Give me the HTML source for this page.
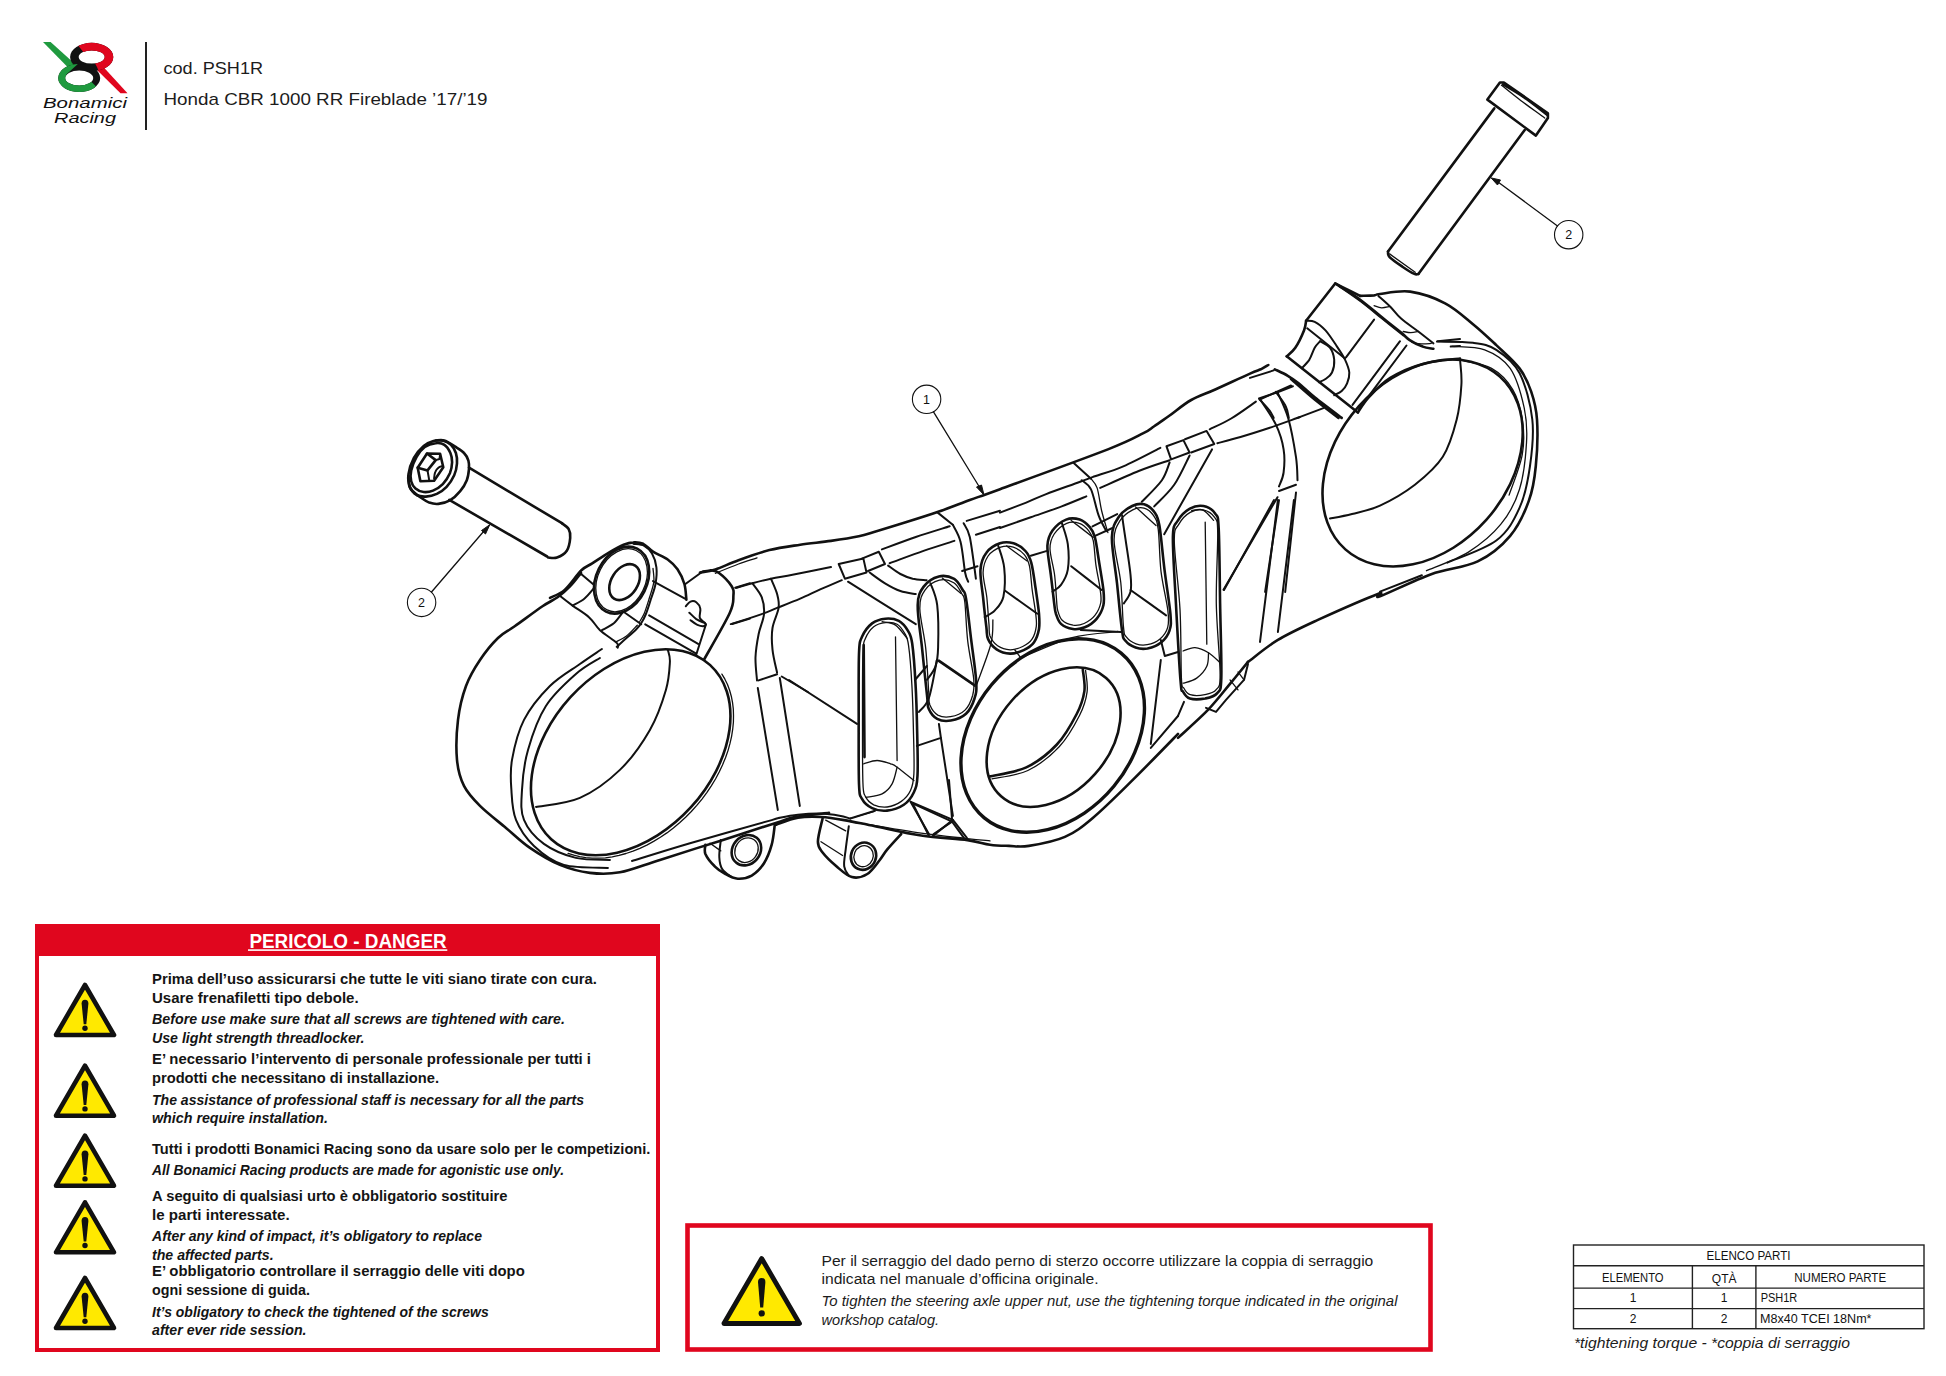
<!DOCTYPE html>
<html><head><meta charset="utf-8">
<style>
html,body{margin:0;padding:0;background:#fff;width:1946px;height:1376px;overflow:hidden}
svg{display:block}
text{font-family:"Liberation Sans",sans-serif}
.b{font-weight:bold;fill:#141414}
.bi{font-weight:bold;font-style:italic;fill:#141414}
.r{fill:#1c1c1c}
.ri{font-style:italic;fill:#1c1c1c}
.d{fill:none;stroke:#111;stroke-width:2;stroke-linecap:round;stroke-linejoin:round}
.t{fill:none;stroke:#111;stroke-width:1.3;stroke-linecap:round;stroke-linejoin:round}
.k{fill:none;stroke:#111;stroke-width:2.6;stroke-linecap:round;stroke-linejoin:round}
.kk{fill:none;stroke:#111;stroke-width:3.4}
</style></head><body>
<svg width="1946" height="1376" viewBox="0 0 1946 1376">
<rect width="1946" height="1376" fill="#fff"/>

<!-- LOGO -->
<g id="logo">
<defs>
<clipPath id="cpR"><path d="M60 20 L76.5 43.5 L83.3 51.9 L91.7 57 L97.2 67.6 L99 72 L140 72 L140 20 Z"/></clipPath>
<clipPath id="cpG"><path d="M79.2 50 L79.2 62.8 L74.8 66.8 L66 74.8 L79.2 78 L90.8 81.2 L95.6 86 L100 90 L100 110 L40 110 L40 50 Z"/></clipPath>
</defs>
<path d="M43 42 L50.6 42 L75 64 L69 68.5 Z" fill="#1f9a3f"/>
<path d="M96.5 69.5 L102.5 66 L127.5 93.2 L120.5 93.2 Z" fill="#e0061e"/>
<path d="M70.1 57 A21.6 14.2 0 1 0 113.3 57 A21.6 14.2 0 1 0 70.1 57 Z M78.7 57 A13 6.6 0 1 1 104.7 57 A13 6.6 0 1 1 78.7 57 Z" fill="#111" fill-rule="evenodd"/>
<path d="M70.1 57 A21.6 14.2 0 1 0 113.3 57 A21.6 14.2 0 1 0 70.1 57 Z M78.7 57 A13 6.6 0 1 1 104.7 57 A13 6.6 0 1 1 78.7 57 Z" fill="#e0061e" fill-rule="evenodd" clip-path="url(#cpR)"/>
<path d="M58.2 78 A21 14 0 1 0 100.2 78 A21 14 0 1 0 58.2 78 Z M65.2 78 A14 7.6 0 1 1 93.2 78 A14 7.6 0 1 1 65.2 78 Z" fill="#111" fill-rule="evenodd"/>
<path d="M58.2 78 A21 14 0 1 0 100.2 78 A21 14 0 1 0 58.2 78 Z M65.2 78 A14 7.6 0 1 1 93.2 78 A14 7.6 0 1 1 65.2 78 Z" fill="#1f9a3f" fill-rule="evenodd" clip-path="url(#cpG)"/>
<text x="43" y="107.6" font-size="15" font-style="italic" fill="#111" textLength="84" lengthAdjust="spacingAndGlyphs">Bonamici</text>
<text x="54" y="123.2" font-size="15" font-style="italic" fill="#111" textLength="62" lengthAdjust="spacingAndGlyphs">Racing</text>
</g>
<rect x="145" y="42" width="2" height="88" fill="#222"/>
<text class="r" x="163.5" y="74" font-size="17" textLength="99.5" lengthAdjust="spacingAndGlyphs">cod. PSH1R</text>
<text class="r" x="163.5" y="105.2" font-size="17" textLength="324" lengthAdjust="spacingAndGlyphs">Honda CBR 1000 RR Fireblade ’17/’19</text>

<!-- DRAWING -->
<g id="drawing">
<path class="k" d="M411.2 470.4 C412.1 466.3 414.4 460.7 416.6 456.8 C418.9 452.9 421.6 449.3 424.8 447 C428 444.7 432.4 443.5 435.7 443.2 C439 442.8 442 443.2 444.4 444.8 C446.9 446.4 449.1 450.1 450.4 453 C451.7 455.9 452.1 458.9 452.1 462.3 C452 465.6 451.4 469.5 449.9 473.2 C448.3 476.8 445.6 481.1 442.8 484.1 C440 487 436.2 489.3 433 490.6 C429.8 491.9 426.6 492.3 423.7 492 C420.8 491.6 417.6 490.2 415.5 488.4 C413.4 486.6 411.9 484.3 411.2 481.3 C410.4 478.3 410.3 474.5 411.2 470.4Z"/>
<path class="k" d="M408.5 474.2 C409.1 469.3 411.4 462.6 413.9 457.9 C416.4 453.2 420.4 448.7 423.7 445.9 C427 443.1 430.3 441.9 433.5 441 C436.8 440.1 440.4 440.1 443.3 440.7 C446.2 441.4 448.9 442.8 451 444.8 C453.1 446.9 454.9 449.9 455.9 453 C456.9 456.1 457.2 459.6 457 463.3 C456.7 467.1 456 471.4 454.2 475.3 C452.5 479.2 449.5 483.7 446.6 486.8 C443.7 489.9 440.2 492.2 436.8 493.9 C433.3 495.5 429.3 496.4 425.9 496.6 C422.5 496.8 419.3 496.5 416.6 495 C414 493.4 411.4 490.8 410.1 487.3 C408.7 483.9 407.8 479.1 408.5 474.2Z"/>
<path class="k" d="M435.7 440.5 C437.2 440.5 441.2 439.5 444.4 440.5 C447.6 441.4 451.5 444.4 454.8 446.4 C458 448.5 461.8 450.6 464 453 C466.3 455.3 467.6 458 468.4 460.6 C469.2 463.3 469.2 465.5 469 468.8 C468.7 472.1 468.2 476.5 466.8 480.2 C465.3 484 463 487.8 460.2 491.1 C457.4 494.5 453.5 498.3 449.9 500.4 C446.2 502.5 441.9 503.6 438.4 503.9 C435 504.3 432.1 503.6 429.2 502.6 C426.3 501.5 423.5 499.4 421 497.7 C418.4 496 415.8 494 413.9 492.2 C412 490.4 410.4 489.5 409.5 486.8 C408.6 484.1 408.6 477.7 408.5 475.9"/>
<path class="k" d="M427 453.5 L440.1 453.8 L443.3 467.2 L434.1 480.8 L420.4 481.3 L417.7 467.7Z"/>
<path class="k" d="M427 453.5 L435.7 460.1 L427.5 470.4 L417.7 467.7"/>
<path class="d" d="M435.7 460.1 L439.5 459 L440.1 454.1"/>
<path class="d" d="M427.5 470.4 L429.2 480.2"/>
<path class="d" d="M434.1 478.6 C434.2 477.5 434.4 473.9 435.2 472.1 C435.9 470.2 437.2 468.7 438.4 467.7 C439.6 466.7 441.6 466.3 442.2 466.1"/>
<path class="k" d="M469 467.7 L561.9 523.2"/>
<path class="k" d="M449.3 499.9 L547.1 556.5"/>
<path class="k" d="M561.9 523.2 C563 524.2 567.3 526.6 568.7 529.1 C570.1 531.5 570.5 534.3 570.2 537.9 C569.9 541.5 569 547.4 566.8 550.7 C564.6 553.9 560.1 556.4 557 557.5 C553.8 558.7 549.6 557.5 548.1 557.5"/>
<path class="k" d="M581 573.1 C579.2 575.3 574.1 582.3 570.2 586.2 C566.4 590.2 562.5 593.7 557.9 597 C553.3 600.4 549.7 601.4 542.5 606.3 C535.3 611.2 522.2 621 514.7 626.3 C507.3 631.6 503.8 632.4 498 638 C492.2 643.6 485.3 652 480 660 C474.6 668 469.7 676 466 686 C462.3 696 459.5 707.6 458 719.9 C456.5 732.3 456 748.9 457 759.9 C458 770.9 460.2 778.3 464 785.9 C467.8 793.6 473 798.9 480 805.9 C487 812.9 497.6 820.9 506 827.9 C514.3 834.9 521 841.7 530 847.9 C538.9 854 549.9 860.7 559.9 864.9 C569.9 869 579.9 871.6 589.9 872.9 C599.9 874.1 608.2 874.4 619.9 872.3 C631.6 870.1 643.2 865.1 659.9 859.9 C676.5 854.6 700.5 847 719.9 840.9 C739.2 834.7 763.2 826.9 775.8 822.9 C788.5 818.9 787 818.6 795.8 816.9 C804.7 815.2 823.5 813.6 829 812.9"/>
<ellipse class="k" cx="630.7" cy="752.2" rx="117.9" ry="81.6" transform="rotate(-47.6 630.7 752.2)"/>
<path class="t" d="M721.9 674.1 L724.9 679.2 L727.5 684.5 L729.6 690.2 L731.3 696.2 L732.5 702.4 L733.3 708.8 L733.5 715.5 L733.4 722.3 L732.7 729.2 L731.6 736.3 L730 743.4 L728 750.6 L725.5 757.7 L722.5 764.9 L719.2 772 L715.5 779 L711.3 785.8 L706.8 792.6 L702 799.1 L696.8 805.4 L691.3 811.5 L685.6 817.3 L679.6 822.8 L673.4 828 L666.9 832.9 L660.4 837.3 L653.6 841.4 L646.8 845.1 L639.9 848.3 L633 851.1 L626 853.5 L619.1 855.4 L612.2 856.8 L605.4 857.8 L598.7 858.2 L592.2 858.2 L585.8 857.7 L579.7 856.7 L573.8 855.2 L568.1 853.3"/>
<path class="d" d="M599.9 658 C595.9 660.6 584.9 666 575.9 674 C566.9 682 553.9 693.3 545.9 706 C537.9 718.6 532 735.9 528 749.9 C524 763.9 522.6 778.3 522 789.9 C521.3 801.6 520.3 810.9 524 819.9 C527.6 828.9 535.3 837.6 543.9 843.9 C552.6 850.2 564.9 855.2 575.9 857.9 C586.9 860.5 604.2 859.5 609.9 859.9"/>
<path class="d" d="M601.9 649 C598.3 651.5 588.6 657.8 579.9 664 C571.3 670.1 559.3 676.6 549.9 686 C540.6 695.3 530.3 707.6 524 719.9 C517.6 732.3 514.1 748.3 512 759.9 C509.9 771.6 510.7 779.9 511.4 789.9 C512 799.9 512.2 810.6 516 819.9 C519.7 829.2 526 838.4 534 845.9 C541.9 853.4 551.6 861.2 563.9 864.9 C576.3 868.5 600.6 867.4 607.9 867.9"/>
<path class="d" d="M536 806.9 C543.3 805.4 565.9 804.1 579.9 797.9 C593.9 791.7 608.2 781.2 619.9 769.9 C631.6 758.6 642.2 743.3 649.9 729.9 C657.6 716.6 662.6 701.3 665.9 690 C669.2 678.6 669.5 668.6 669.9 662 C670.2 655.3 668.2 652 667.9 650"/>
<path class="k" d="M550 597.8 C552.5 596.5 559.5 594.5 564.7 589.9 C569.9 585.4 576.8 574.7 581.4 570.3 C586 565.9 587.6 566.4 592.2 563.4 C596.8 560.5 603.6 555.8 608.9 552.7 C614.1 549.6 619.5 546.5 623.6 544.8 C627.7 543.1 630.1 542.5 633.4 542.4 C636.7 542.2 639.9 542.3 643.2 543.8 C646.5 545.4 648.9 549.1 653 551.7 C657.1 554.3 663.6 556.6 667.7 559.5 C671.8 562.5 674.7 565.2 677.5 569.3 C680.3 573.4 682.9 579 684.4 584 C685.9 589.1 686 597.1 686.4 599.7"/>
<ellipse class="k" cx="621.6" cy="580.1" rx="25.4" ry="35.1" transform="rotate(-153.7 621.6 580.1)"/>
<ellipse class="t" cx="621.6" cy="580.2" rx="23.7" ry="33.1" transform="rotate(-153.9 621.6 580.2)"/>
<ellipse class="k" cx="624.6" cy="582.1" rx="19.6" ry="13.2" transform="rotate(-57.3 624.6 582.1)"/>
<path class="d" d="M633.4 543.8 C635.2 544.2 641.1 544.2 644.2 545.8 C647.3 547.4 650 550 652 553.6 C654.1 557.2 655.9 562.3 656.4 567.4 C657 572.4 656.4 578.8 655.5 584 C654.6 589.3 652.6 593.9 651 598.8 C649.5 603.7 647.8 609.4 646.1 613.5 C644.5 617.6 642.9 620.7 641.2 623.3 C639.6 625.9 638.8 626.7 636.3 629.2 C633.9 631.6 629.8 635.1 626.5 638 C623.2 640.9 618.3 645.4 616.7 646.8"/>
<path class="t" d="M653 568.4 C653.1 570.6 654.4 577 653.8 582.1 C653.1 587.2 650.7 593.5 649.1 598.8 C647.5 604 645.8 609.6 644.2 613.5 C642.5 617.4 640.1 620.8 639.3 622.3"/>
<path class="d" d="M685.8 606.3 C686.6 605.5 688.7 602.3 690.5 601.6 C692.2 600.9 694.6 601 696.3 602.2 C697.9 603.4 699.8 606 700.3 608.6 C700.9 611.2 699 615.5 699.8 617.9 C700.5 620.3 704.2 621.8 705 623.1 C705.8 624.5 705.7 625.8 704.4 626 C703.2 626.3 699.8 625.9 697.4 624.9 C695.1 623.9 691.6 621 690.5 620.2"/>
<path class="d" d="M689.3 612.7 C690.5 613.7 693.7 617.3 696.3 619.1 C698.9 620.8 703.5 622.5 705 623.1"/>
<path class="d" d="M706 624.3 L696.2 654.7"/>
<path class="d" d="M653 581.1 L685.4 598.8"/>
<path class="d" d="M649.1 615.4 L698.1 643.9"/>
<path class="d" d="M645.2 624.3 L696.2 653.7"/>
<path class="d" d="M624.6 612.5 L641.2 624.3"/>
<path class="d" d="M581.4 574.2 L594.1 585"/>
<path class="d" d="M559.8 595.8 C561.9 597.5 567.7 602 572.6 605.6 C577.5 609.2 584.7 613.3 589.2 617.4 C593.8 621.5 595.5 625.9 600 630.2 C604.6 634.4 613.8 640 616.7 642.9 C619.6 645.8 617.5 647 617.7 647.8"/>
<path class="d" d="M572.6 605.6 C574.5 604.5 580.7 601.7 584.3 598.8 C587.9 595.8 592.5 589.8 594.1 588"/>
<path class="d" d="M602 630.2 C604 629 610.3 626.2 613.8 623.3 C617.2 620.3 621.1 614.3 622.6 612.5"/>
<path class="t" d="M615.7 641.9 C617.5 640.9 622.9 638.8 626.5 636 C630.1 633.3 635.5 627 637.3 625.2"/>
<path class="d" d="M685.4 584 L703 571.3 L710.9 570.3"/>
<path class="k" d="M710.9 570.3 C712.2 570.7 715.3 570.2 718.7 572.8 C722.2 575.4 729 582.2 731.5 586 C733.9 589.9 733.8 591.2 733.4 595.8 C733.1 600.4 734.4 602.9 729.5 613.5 C724.6 624.1 708.3 651.9 704 659.6"/>
<path class="d" d="M735.2 587.8 L750 583.2"/>
<path class="d" d="M732.1 624 L750 618.6"/>
<path class="k" d="M700 572.5 C702.6 572 709 571.5 715.4 569.4 C721.8 567.4 729.5 563.4 738.5 560.2 C747.5 556.9 759.1 552.7 769.4 550.1 C779.6 547.6 789.9 546.3 800.2 544.7 C810.5 543.2 821.3 542.3 831 540.9 C840.8 539.5 851.1 537.9 858.8 536.3 C866.5 534.6 869.1 533.3 877.3 530.9 C885.5 528.4 897.8 524.8 908.1 521.6 C918.4 518.4 928.7 515.2 938.9 511.6 C949.2 508 959.6 503.8 969.8 500 C979.9 496.3 977 497.7 1000 489.2 C1023 480.8 1084 458.7 1107.9 449.4 C1131.8 440 1135.7 437 1143.4 433.2 C1151.1 429.3 1149.8 429.2 1154.2 426.2 C1158.5 423.3 1163.4 419.8 1169.6 415.5 C1175.7 411.1 1183.4 404.4 1191.2 400 C1198.9 395.7 1206 393.7 1215.8 389.2 C1225.6 384.8 1242.5 376.9 1250 373.6 C1257.5 370.3 1257.7 370.7 1260.8 369.3 C1263.8 367.8 1267.1 365.7 1268.3 365"/>
<path class="t" d="M715.4 573.3 C719.3 571.7 731.6 566.6 738.5 564 C745.5 561.4 754 558.9 757 557.8"/>
<path class="d" d="M736.2 587.9 C738.9 587.1 746.6 584.8 752.4 583.3 C758.2 581.7 764.2 580.1 770.9 578.7 C777.6 577.2 782.5 576.7 792.5 574.8 C802.5 572.9 824.6 568.4 831 567.1"/>
<path class="d" d="M730.8 624.1 C736 622.5 754 616.8 761.7 614.1 C769.4 611.4 770.7 610.5 777.1 607.9 C783.5 605.4 793 601.8 800.2 598.7 C807.4 595.6 813.3 592.5 820.2 589.4 C827.2 586.4 838.2 581.7 841.8 580.2"/>
<path class="d" d="M752.4 583.3 C754 585.6 759.7 592 761.7 597.2 C763.6 602.3 764.5 607.9 764 614.1 C763.5 620.3 760 627 758.6 634.2 C757.2 641.3 755.8 649.6 755.5 657.3 C755.2 665 756.8 676.5 757 680.4"/>
<path class="d" d="M770.9 578.7 C771.9 581.2 775.8 589.2 777.1 594.1 C778.4 599 779.4 602.3 778.6 607.9 C777.8 613.6 773.5 621.1 772.5 628 C771.4 634.9 771.7 642.1 772.5 649.6 C773.2 657 776.3 668.8 777.1 672.7"/>
<path class="d" d="M838.7 564 L863.4 558.6 L866.5 572.5 L844.9 578.7Z"/>
<path class="d" d="M861.9 558.6 L878.8 551.7 L885 564 L868 571"/>
<path class="d" d="M881.9 549.4 C887.6 547.3 904.5 540.9 915.8 537 C927.1 533.2 944.1 528 949.7 526.2"/>
<path class="d" d="M889.6 563.2 C895.3 561.2 912.7 554.6 923.5 550.9 C934.3 547.2 949.2 542.6 954.4 540.9"/>
<path class="d" d="M869.6 572.5 C872.1 574.3 879.8 580.2 885 583.3 C890.1 586.4 895.3 589.2 900.4 591 C905.5 592.8 913.2 593.6 915.8 594.1"/>
<path class="d" d="M888.1 565.6 C890.1 567 896.3 571.9 900.4 574 C904.5 576.2 908.4 577.6 912.7 578.7 C917.1 579.7 924.3 579.9 926.6 580.2"/>
<path class="d" d="M848 581.7 L877.3 600.2 L915.8 624.1"/>
<path class="d" d="M937.4 512.4 L952.8 524.7"/>
<path class="d" d="M952.8 524.7 C954.1 527.5 958.5 533.7 960.5 541.7 C962.6 549.6 963.9 565.8 965.1 572.5 C966.4 579.2 967.7 580.2 968.2 581.7"/>
<path class="d" d="M963.6 523.2 C964.6 525.5 967.7 527.8 969.8 537 C971.8 546.3 974.9 571.7 975.9 578.7"/>
<path class="d" d="M966.7 520.9 L1000 510.8"/>
<path class="d" d="M975.9 534.7 L1000 527"/>
<path class="d" d="M962.1 571 L977.5 566.3"/>
<path class="d" d="M758.6 680.4 L777.1 674.2"/>
<path class="d" d="M781.7 676.5 L807.9 692"/>
<path class="d" d="M1000 512.6 C1004.4 510.9 1018.5 505.6 1026.2 502.6 C1033.9 499.5 1037.3 497.5 1046.2 494.1 C1055.2 490.6 1072.5 484.6 1080.2 481.7 C1087.9 478.9 1085.3 479.7 1092.5 477.1 C1099.7 474.5 1112 471.2 1123.3 466.3 C1134.6 461.4 1154.2 450.9 1160.3 447.8"/>
<path class="d" d="M1000 528 C1005.1 526.2 1020.6 520.8 1030.8 517.2 C1041.1 513.6 1052.4 509.9 1061.7 506.4 C1070.9 502.9 1082.2 498.1 1086.3 496.4"/>
<path class="d" d="M1100.2 487.9 C1106.6 485.1 1127.2 475.6 1138.7 471 C1150.3 466.3 1164.4 462 1169.6 460.2"/>
<path class="d" d="M1166.5 446.3 L1183.4 440.1 L1189.6 452.5 L1171.1 459.4Z"/>
<path class="d" d="M1185 439.3 L1206.6 430.9 L1214.3 444 L1191.2 452.5"/>
<path class="d" d="M1209.7 429.3 C1213.2 427.5 1223.5 423.2 1231.2 418.5 C1238.9 413.9 1251.8 404.4 1255.9 401.6"/>
<path class="d" d="M1217.4 443.2 C1221.2 442.2 1231.7 439.6 1240.5 437 C1249.2 434.5 1259.9 431.1 1269.8 427.8 C1279.7 424.4 1294.9 418.8 1300 417"/>
<path class="d" d="M1259 398.5 L1277.5 392.3 L1292.9 386.2"/>
<path class="d" d="M1169.6 462.5 C1168.3 465.4 1166.5 473.6 1161.9 480.2 C1157.2 486.8 1145.2 498.2 1141.8 501.8"/>
<path class="d" d="M1189.6 455.5 C1187 460.4 1180.1 476.3 1174.2 484.8 C1168.3 493.3 1157.5 502.8 1154.2 506.4"/>
<path class="d" d="M1212 449.4 L1185 497.2 L1164.2 534.2"/>
<path class="d" d="M1260.5 400 C1263.1 404.2 1272.1 416.5 1275.9 424.7 C1279.8 432.9 1282.4 441.4 1283.6 449.4 C1284.9 457.3 1284.4 466.3 1283.6 472.5 C1282.9 478.7 1279.8 484.1 1279 486.4"/>
<path class="d" d="M1277.5 392.3 C1279.3 396.7 1285.2 407.7 1288.3 418.5 C1291.4 429.3 1294.4 446.8 1296 457.1 C1297.5 467.4 1297.3 476.3 1297.5 480.2"/>
<path class="d" d="M1279 491 L1296 484.8"/>
<path class="d" d="M1277.5 497.2 L1223.5 589.7"/>
<path class="d" d="M1279 500.2 L1265.1 592"/>
<path class="d" d="M1296 492.5 L1285.2 592"/>
<path class="d" d="M1074 463.2 L1091 478.7"/>
<path class="d" d="M1081.7 480.2 C1083.2 481.7 1088.1 483.5 1091 489.4 C1093.8 495.4 1096.1 508.7 1098.7 515.7 C1101.2 522.6 1105.1 528.5 1106.4 531.1"/>
<path class="t" d="M1091 478.7 C1092 480.2 1095.3 482.5 1097.1 487.9 C1098.9 493.3 1099.9 503.6 1101.7 511 C1103.5 518.5 1106.9 529 1107.9 532.6"/>
<path class="d" d="M1092.5 526.4 L1117.2 514.1"/>
<path class="d" d="M1095.6 535.7 L1112.5 528"/>
<path class="d" d="M1030.8 555.7 L1046.2 551.1"/>
<path class="k" d="M859 653.5 C859.6 640.1 859.9 641.8 862 636.8 C864.2 631.8 868.2 626.4 872.1 623.4 C876 620.4 881 619.1 885.4 618.7 C889.9 618.3 895 618.9 898.8 620.9 C902.6 622.9 905.8 627.2 908 630.9 C910.2 634.7 910.9 634.7 912.2 643.5 C913.4 652.2 914.7 668.5 915.5 683.6 C916.4 698.6 916.9 718.4 917.2 733.7 C917.5 749.1 918.1 765.8 917.5 775.5 C917 785.3 916.1 787.4 913.9 792.2 C911.6 797.1 908.3 801.7 903.8 804.8 C899.4 807.8 892.4 810.1 887.1 810.6 C881.8 811.2 876.2 810.1 872.1 808.1 C867.9 806.2 864.2 803 862 798.9 C859.9 794.9 859.6 797.5 859 783.9 C858.5 770.2 858.7 738.7 858.7 717 C858.7 695.3 858.5 666.9 859 653.5Z"/>
<path class="t" d="M862.9 653.5 C863.3 640.4 863.6 642.9 865.4 638.4 C867.2 634 870.4 629.4 873.7 626.7 C877.1 624.1 881.5 623 885.4 622.6 C889.3 622.1 893.9 622.4 897.1 624.2 C900.3 626.1 902.8 630 904.7 633.4 C906.6 636.9 907.3 636.8 908.5 645.1 C909.7 653.5 911 668.8 911.8 683.6 C912.7 698.4 913.2 718.7 913.5 733.7 C913.9 748.8 914.4 764.4 913.9 773.9 C913.4 783.3 912.6 786 910.5 790.6 C908.4 795.2 905.2 798.7 901.3 801.4 C897.4 804.2 891.7 806.4 887.1 807 C882.5 807.5 877.4 806.5 873.7 804.8 C870.1 803 867.2 800.2 865.4 796.4 C863.6 792.7 863.3 795.4 862.9 782.2 C862.4 769 862.5 738.5 862.5 717 C862.5 695.6 862.4 666.6 862.9 653.5Z"/>
<path class="k" d="M863.7 645.1 L864.5 757.1"/>
<path class="t" d="M895.5 636.8 L897.1 760.5"/>
<path class="t" d="M863.7 763.8 C865.9 763.3 872.6 760.5 877.1 760.5 C881.5 760.5 887.1 762.7 890.5 763.8 C893.8 764.9 893.2 764.4 897.1 767.2 C901 770 911.1 778.3 913.9 780.5"/>
<path class="t" d="M866.2 797.3 C868.9 796.7 877.8 796.1 882.1 793.9 C886.4 791.7 889.6 788.3 892.1 783.9 C894.6 779.4 896.3 770 897.1 767.2"/>
<path class="t" d="M882.1 621.7 C884.3 622.3 891.3 622.3 895.5 625.1 C899.6 627.9 905.2 636.2 907.2 638.4"/>
<path class="k" d="M917.7 605.2 C918 595.1 920.1 591.4 923.7 586.6 C927.2 581.8 933.8 577.7 938.9 576.4 C944 575.1 950.2 576.7 954.2 578.9 C958.1 581.2 960.7 586.7 962.7 590 C964.6 593.2 964.6 590.2 966 598.4 C967.5 606.6 969.4 625.3 971.1 639.1 C972.8 653 975.7 671.6 976.2 681.5 C976.8 691.4 976.2 693.1 974.5 698.5 C972.8 703.9 970 710.1 966 713.8 C962.1 717.4 955.6 719.7 950.8 720.5 C946 721.4 940.9 720.8 937.2 718.8 C933.5 716.9 930.4 712.6 928.7 708.7 C927 704.7 928.2 705.3 927 695.1 C925.9 684.9 923.5 662.6 922 647.6 C920.4 632.6 917.4 615.4 917.7 605.2Z"/>
<path class="t" d="M919.8 608.4 C919.7 598.7 921.7 594.8 925 590.1 C928.3 585.4 934.6 581.4 939.4 580.2 C944.2 578.9 950.1 580.5 953.8 582.7 C957.6 585 959.9 590.4 961.8 593.7 C963.6 596.9 963.8 594.2 964.8 602 C965.8 609.9 966.2 628 967.7 640.8 C969.2 653.6 972.8 669.7 973.7 678.7 C974.5 687.8 974.1 689.9 972.7 695.2 C971.2 700.4 968.7 706.5 965 710.1 C961.3 713.7 955.2 715.9 950.6 716.7 C946.1 717.6 941.3 717 937.8 715.1 C934.4 713.1 931.5 709 929.9 705.1 C928.4 701.2 929.3 701.2 928.7 691.7 C928 682.2 927.2 661.9 925.7 648.1 C924.3 634.2 919.9 618 919.8 608.4Z"/>
<path class="d" d="M930.4 583.2 C931.6 586.9 935.9 594.5 937.2 605.2 C938.5 616 938.4 637.4 938.1 647.6 C937.8 657.8 937.4 660.9 935.5 666.3 C933.7 671.6 928.5 677.6 927 679.8"/>
<path class="d" d="M938.9 660.3 C944.9 664.4 968.6 680.8 974.5 684.9"/>
<path class="t" d="M942.3 578.1 C945.4 580.6 957.9 590.8 961 593.4"/>
<path class="k" d="M980.5 569.6 C981 562.3 983.1 557 986.4 552.7 C989.6 548.3 995.4 544.9 1000 543.3 C1004.5 541.8 1009.3 542.1 1013.5 543.3 C1017.8 544.6 1022.4 547.7 1025.4 551 C1028.4 554.2 1029.6 556.6 1031.3 562.8 C1033 569 1034.3 579.8 1035.6 588.3 C1036.8 596.7 1038.4 606.9 1039 613.7 C1039.5 620.5 1039.8 624.2 1039 629 C1038.1 633.8 1036.4 639 1033.9 642.5 C1031.3 646.1 1027.7 648.3 1023.7 650.2 C1019.7 652 1014.7 653.7 1010.1 653.6 C1005.6 653.4 1000.2 651.7 996.6 649.3 C992.9 646.9 989.8 642.8 988.1 639.1 C986.4 635.5 987.2 634.3 986.4 627.3 C985.5 620.2 984 606.4 983 596.7 C982 587.1 979.9 577 980.5 569.6Z"/>
<path class="t" d="M983.1 572.3 C983.3 565.5 985.2 560.3 988.1 556 C991 551.8 996.5 548.6 1000.7 547.1 C1004.9 545.6 1009.4 545.9 1013.3 547.1 C1017.3 548.4 1021.6 551.4 1024.3 554.6 C1027 557.8 1028.2 560.3 1029.5 566.2 C1030.8 572.1 1031.2 582.3 1032.2 590 C1033.2 597.6 1034.8 606.1 1035.5 612.1 C1036.2 618.2 1036.9 621.8 1036.3 626.3 C1035.7 630.8 1034.3 635.8 1032 639.2 C1029.8 642.6 1026.4 644.7 1022.7 646.5 C1019.1 648.2 1014.4 649.9 1010.2 649.8 C1006 649.6 1001 648 997.6 645.7 C994.3 643.4 991.5 639.4 990 635.9 C988.6 632.3 989.5 630.9 989 624.5 C988.4 618 987.7 606 986.8 597.3 C985.8 588.6 982.9 579.2 983.1 572.3Z"/>
<path class="d" d="M998.3 545.9 C999.3 549.5 1003.4 559.4 1004.2 567.9 C1005.1 576.4 1004.9 589.7 1003.4 596.7 C1001.8 603.8 998 606.9 994.9 610.3 C991.8 613.7 986.4 616 984.7 617.1"/>
<path class="d" d="M1005.1 590.8 C1010.4 594.6 1031.9 609.9 1037.3 613.7"/>
<path class="t" d="M1006.7 545.9 C1010.1 548.4 1023.7 558.6 1027.1 561.1"/>
<path class="k" d="M1047.4 545.9 C1047.7 538.5 1049.4 535 1052.5 530.6 C1055.6 526.2 1061.6 521.4 1066.1 519.6 C1070.6 517.8 1075.7 518.3 1079.7 519.6 C1083.6 520.9 1087.3 524.3 1089.8 527.2 C1092.4 530.2 1093.4 531.5 1094.9 537.4 C1096.5 543.3 1097.8 554.1 1099.2 562.8 C1100.6 571.6 1102.7 582.9 1103.4 590 C1104.1 597 1104.5 600.4 1103.4 605.2 C1102.3 610 1099.7 615.1 1096.6 618.8 C1093.5 622.5 1088.7 625.6 1084.8 627.3 C1080.8 629 1076.8 629.5 1072.9 629 C1068.9 628.4 1063.8 626.4 1061 623.9 C1058.2 621.3 1057.1 617.1 1055.9 613.7 C1054.8 610.3 1055.1 610 1054.2 603.5 C1053.4 597 1052 584.3 1050.8 574.7 C1049.7 565.1 1047.2 553.2 1047.4 545.9Z"/>
<path class="t" d="M1050 548.7 C1049.9 541.8 1051.5 538.2 1054.2 534 C1057 529.8 1062.5 525.1 1066.7 523.3 C1070.9 521.6 1075.7 522.1 1079.4 523.4 C1083.1 524.6 1086.5 528 1088.8 530.9 C1091.1 533.8 1092.1 535.2 1093.3 540.8 C1094.5 546.5 1094.8 556.9 1095.9 564.8 C1097 572.7 1099.2 582 1100 588.3 C1100.8 594.6 1101.6 598 1100.8 602.5 C1099.9 607 1097.7 611.9 1094.9 615.4 C1092.2 618.9 1087.7 621.9 1084.1 623.5 C1080.4 625.2 1076.8 625.7 1073.1 625.2 C1069.4 624.6 1064.7 622.7 1062.2 620.3 C1059.6 617.8 1058.6 613.6 1057.7 610.4 C1056.8 607.1 1057.1 606.5 1056.6 600.6 C1056.1 594.7 1055.7 583.7 1054.6 575 C1053.5 566.4 1050.1 555.5 1050 548.7Z"/>
<path class="d" d="M1061.9 523 C1062.8 526.5 1066.8 536.4 1067.8 544.2 C1068.8 551.9 1068.9 562.8 1067.8 569.6 C1066.7 576.4 1063.6 581.2 1061 584.9 C1058.5 588.6 1053.9 590.5 1052.5 591.7"/>
<path class="d" d="M1071.2 566.2 C1076.3 570.2 1096.6 586 1101.7 590"/>
<path class="t" d="M1071.2 520.4 C1074.9 523.3 1089.6 534.6 1093.2 537.4"/>
<path class="k" d="M1111.9 537.4 C1112.2 526.4 1115.3 522.3 1118.7 517 C1122.1 511.8 1128 508.1 1132.2 506 C1136.5 503.9 1140.4 503.3 1144.1 504.3 C1147.8 505.3 1151.7 508.4 1154.3 512 C1156.8 515.5 1157.7 515.9 1159.4 525.5 C1161.1 535.1 1162.6 554.9 1164.5 569.6 C1166.3 584.3 1169.5 603.5 1170.4 613.7 C1171.2 623.9 1171.1 625.9 1169.5 630.7 C1168 635.5 1164.7 639.6 1161.1 642.5 C1157.4 645.5 1151.7 647.6 1147.5 648.5 C1143.3 649.3 1139.3 648.9 1135.6 647.6 C1132 646.3 1127.7 643.7 1125.5 640.8 C1123.2 638 1123.5 640.3 1122.1 630.7 C1120.6 621.1 1118.7 598.7 1117 583.2 C1115.3 567.6 1111.6 548.4 1111.9 537.4Z"/>
<path class="t" d="M1114.1 540.5 C1113.9 530.1 1116.9 525.7 1120 520.6 C1123.1 515.5 1128.7 511.9 1132.7 509.8 C1136.7 507.7 1140.5 507.1 1144 508.1 C1147.5 509.1 1151.3 512.2 1153.6 515.7 C1156 519.2 1157 519.9 1158.2 529.2 C1159.5 538.4 1159.4 557.7 1161 571.3 C1162.7 584.9 1166.8 601.5 1167.9 610.8 C1169 620.1 1169 622.6 1167.7 627.3 C1166.4 632 1163.4 636 1160 638.9 C1156.5 641.8 1151.2 643.9 1147.2 644.7 C1143.2 645.5 1139.5 645.1 1136 643.8 C1132.5 642.6 1128.6 640 1126.5 637.2 C1124.4 634.4 1124.4 636.2 1123.5 627.1 C1122.5 618.1 1122.3 597.2 1120.8 582.8 C1119.2 568.4 1114.2 550.9 1114.1 540.5Z"/>
<path class="d" d="M1122.1 515.3 C1122.6 519.3 1124 529.2 1125.5 539.1 C1126.9 549 1129.7 565.9 1130.5 574.7 C1131.4 583.5 1131.7 586.9 1130.5 591.7 C1129.4 596.5 1124.9 601.6 1123.8 603.5"/>
<path class="d" d="M1130.5 590 C1136.5 594.2 1160.2 611.2 1166.1 615.4"/>
<path class="t" d="M1135.6 506.9 C1139 510 1152.6 522.4 1156 525.5"/>
<path class="k" d="M1172.9 537.4 C1173.2 522.4 1175.2 525.2 1178 520.4 C1180.8 515.6 1185.7 511 1189.9 508.6 C1194.1 506.2 1199.2 505.2 1203.5 506 C1207.7 506.9 1212.8 509.8 1215.3 513.7 C1217.9 517.5 1217.9 513.9 1218.7 528.9 C1219.5 543.9 1219.7 578.7 1220.1 603.5 C1220.5 628.4 1221.8 663.2 1221.3 678.1 C1220.8 693.1 1219.7 690 1217 693.4 C1214.3 696.8 1209.7 697.6 1205.2 698.5 C1200.6 699.3 1193.6 699.6 1189.9 698.5 C1186.2 697.4 1184.7 694.5 1183.1 691.7 C1181.6 688.9 1181.7 695.1 1180.6 681.5 C1179.4 668 1177.6 634.3 1176.3 610.3 C1175.1 586.3 1172.7 552.4 1172.9 537.4Z"/>
<path class="t" d="M1174.3 541 C1174.1 526.7 1176.2 528.9 1178.9 524.1 C1181.6 519.4 1186.1 514.7 1190.2 512.4 C1194.3 510 1199.2 509 1203.2 509.8 C1207.3 510.7 1212.2 513.6 1214.6 517.4 C1217 521.2 1217.4 518.2 1217.7 532.6 C1218 547 1215.9 580.1 1216.3 603.8 C1216.7 627.4 1220.1 660.2 1220.1 674.5 C1220.1 688.8 1218.8 686.3 1216.2 689.7 C1213.7 693.1 1209.2 693.9 1204.9 694.7 C1200.5 695.5 1193.7 695.8 1190.2 694.7 C1186.7 693.6 1185.2 690.8 1183.8 688 C1182.3 685.2 1182 690.9 1181.4 677.8 C1180.8 664.7 1181.2 632.2 1180 609.4 C1178.8 586.6 1174.4 555.2 1174.3 541Z"/>
<path class="t" d="M1205.2 522.1 C1205.4 542.5 1206.6 623.9 1206.8 644.2"/>
<path class="t" d="M1183.1 651 C1185.1 650.4 1190.7 647.3 1195 647.6 C1199.2 647.9 1204.3 650.2 1208.5 652.7 C1212.8 655.3 1218.4 661.2 1220.4 662.9"/>
<path class="t" d="M1183.1 683.2 C1185.4 682.4 1192.7 681 1196.7 678.1 C1200.6 675.3 1204.9 670.5 1206.8 666.3 C1208.8 662 1208.3 655 1208.5 652.7"/>
<path class="t" d="M1191.6 510.3 C1193.6 510.3 1199.8 508.6 1203.5 510.3 C1207.1 512 1211.9 518.7 1213.6 520.4"/>
<ellipse class="kk" cx="1052.7" cy="735.5" rx="107.1" ry="79.5" transform="rotate(-50.3 1052.7 735.5)"/>
<ellipse class="k" cx="1053.6" cy="737.1" rx="55.5" ry="79.1" transform="rotate(-138.4 1053.6 737.1)"/>
<path class="k" d="M989.7 776.6 C995.8 775 1015.1 772.7 1026.3 767.4 C1037.5 762.1 1048.5 753.4 1056.9 744.5 C1065.3 735.6 1072.1 722.9 1076.7 714 C1081.3 705.1 1083.3 698.4 1084.4 691.1 C1085.4 683.7 1083.1 673.3 1082.8 669.7"/>
<path class="t" d="M992 778.9 C998 777.5 1016.7 775.8 1027.9 770.5 C1039.1 765.1 1050.6 756 1059.2 746.8 C1067.8 737.6 1074.8 724.7 1079.5 715.5 C1084.1 706.3 1086.1 699.3 1087.1 691.8 C1088.1 684.3 1085.8 674 1085.6 670.5"/>
<path class="t" d="M1021.8 657.5 C1030.2 654.2 1056.1 642 1072.1 637.6 C1088.2 633.3 1110.3 632.5 1117.9 631.5"/>
<path class="k" d="M1360.1 295.9 C1362.4 295.8 1370.8 295.7 1374.1 295.4 C1377.4 295 1374 294.6 1380 294 C1386 293.3 1399.4 290.1 1410.2 291.6 C1421.1 293.2 1434.7 297.8 1445.1 303.3 C1455.6 308.7 1464.5 317.2 1473 324.2 C1481.6 331.2 1488.5 337.8 1496.3 345.1 C1504 352.5 1513.7 360.6 1519.5 368.4 C1525.3 376.1 1528.3 383.1 1531.2 391.6 C1534.1 400.2 1536.2 407.1 1537 419.5 C1537.8 431.9 1537.2 452.5 1535.8 466 C1534.5 479.6 1533.1 489.3 1528.8 500.9 C1524.6 512.6 1518.8 525.7 1510.2 535.8 C1501.7 545.9 1490.9 555 1477.7 561.4 C1464.5 567.8 1447.4 568.4 1431.2 574.2 C1414.9 580 1388.9 593 1380 596.3 C1371.1 599.6 1388.2 590 1377.9 594 C1367.6 597.9 1334.6 612.3 1317.9 619.9 C1301.3 627.6 1289.6 632.9 1277.9 639.9 C1266.3 646.9 1253 658.3 1248 661.9"/>
<path class="d" d="M1437 341.6 C1443 341.8 1463.1 341.4 1473 342.8 C1482.9 344.1 1488.5 344.7 1496.3 349.8 C1504 354.8 1513.5 361.4 1519.5 373 C1525.5 384.7 1530.6 404 1532.3 419.5 C1534.1 435 1532.1 451.3 1530 466 C1527.9 480.8 1525.2 495.5 1519.5 507.9 C1513.9 520.3 1508.3 531.4 1496.3 540.5 C1484.3 549.6 1455.6 558.9 1447.4 562.6"/>
<path class="t" d="M1452.1 346.3 C1457.5 346.9 1475 346.1 1484.7 349.8 C1494.3 353.4 1503.6 358.7 1510.2 368.4 C1516.8 378.1 1521.5 395.5 1524.2 407.9 C1526.9 420.3 1527.3 429.2 1526.5 442.8 C1525.7 456.4 1523.8 475.7 1519.5 489.3 C1515.3 502.9 1509.5 513.7 1500.9 524.2 C1492.4 534.7 1480.8 544.3 1468.4 552.1 C1456 559.8 1433.5 567.6 1426.5 570.7"/>
<ellipse class="k" cx="1422.6" cy="463" rx="115.9" ry="85.4" transform="rotate(-48.2 1422.6 463)"/>
<path class="t" d="M1461.4 360.2 C1466.4 361.6 1483.1 363.5 1491.6 368.4 C1500.2 373.2 1507.4 380.8 1512.6 389.3 C1517.7 397.8 1520.7 408.7 1522.3 419.5 C1524 430.4 1524.5 441.8 1522.3 454.4 C1520.1 467 1511.3 488.3 1509.1 495.1"/>
<path class="d" d="M1460.2 361.4 C1460.4 365.3 1462 375 1461.4 384.7 C1460.8 394.3 1459.8 407.5 1456.7 419.5 C1453.6 431.6 1449.8 445.9 1442.8 456.7 C1435.8 467.6 1425.3 476.5 1414.9 484.7 C1404.4 492.8 1390.5 500.7 1380 505.6 C1369.5 510.5 1360.3 511.8 1352 514 C1343.7 516.2 1333.7 517.8 1330 518.5"/>
<path class="d" d="M1380 591.6 L1421.9 575.3"/>
<path class="k" d="M1335.2 283.5 L1306.1 320.7"/>
<path class="k" d="M1306.1 320.7 C1305.8 322.3 1305.8 325.9 1304 330.4 C1302.2 334.9 1298.2 343.4 1295.3 347.7 C1292.4 352 1288.1 354.9 1286.7 356.3"/>
<path class="k" d="M1286.7 356.3 L1357.9 412.4"/>
<path class="k" d="M1357.9 412.4 C1359.7 409.9 1363.3 403.1 1368.7 397.3 C1374.1 391.6 1381.3 383.5 1390.3 377.9 C1399.3 372.3 1411 367.1 1422.7 363.9 C1434.3 360.6 1453.8 359.4 1460 358.5"/>
<path class="k" d="M1335.2 283.5 C1337.2 284.5 1343 287.4 1347.1 289.4 C1351.3 291.5 1357.9 294.8 1360.1 295.9"/>
<path class="k" d="M1336.3 284 C1339.9 286.4 1350.7 292.8 1357.9 298.1 C1365.1 303.3 1372.3 309.6 1379.5 315.3 C1386.7 321.1 1396 328.5 1401.1 332.6 C1406.1 336.7 1406.1 337.8 1409.7 340.1 C1413.3 342.5 1418.7 345.2 1422.7 346.6 C1426.6 348.1 1431.6 348.4 1433.4 348.8"/>
<path class="t" d="M1338.5 286.2 C1342.1 288.7 1352.9 295.9 1360.1 301.3 C1367.3 306.7 1374.5 312.8 1381.6 318.6 C1388.8 324.3 1399.6 332.9 1403.2 335.8"/>
<path class="d" d="M1378.4 295.9 C1380.4 297.7 1386.5 302.9 1390.3 306.7 C1394.1 310.5 1396.4 314.4 1401.1 318.6 C1405.7 322.7 1412.9 327.4 1418.3 331.5 C1423.7 335.6 1430.9 341.4 1433.4 343.4"/>
<path class="t" d="M1374.1 305.6 C1375.4 306 1379.1 307.6 1381.6 307.8 C1384.2 307.9 1387.9 306.9 1389.2 306.7"/>
<path class="t" d="M1403.2 331.5 C1404.5 331.7 1408.3 332.6 1410.8 332.6 C1413.3 332.6 1417.1 331.7 1418.3 331.5"/>
<path class="t" d="M1411.9 342.3 C1413.5 342.6 1418.3 343.7 1421.6 343.9 C1424.8 344.1 1429.7 343.5 1431.3 343.4"/>
<path class="d" d="M1374.1 319.6 L1346 357.4"/>
<path class="d" d="M1400 341.2 L1352.5 404.9"/>
<path class="d" d="M1406.5 345.5 L1359 409.2"/>
<path class="d" d="M1306.1 320.7 C1307.6 320.9 1311.5 320.2 1314.7 321.8 C1318 323.4 1321.9 326.5 1325.5 330.4 C1329.1 334.4 1333.1 340.7 1336.3 345.5 C1339.6 350.4 1342.8 355.1 1345 359.6 C1347.1 364.1 1348.9 368.6 1349.3 372.5 C1349.6 376.5 1348.4 380.2 1347.1 383.3 C1345.9 386.4 1343.9 388.9 1341.7 390.9 C1339.6 392.8 1335.4 394.5 1334.2 395.2"/>
<path class="d" d="M1320.1 341.2 C1321.8 342.3 1327.5 344.6 1329.9 347.7 C1332.2 350.8 1333.8 355.4 1334.2 359.6 C1334.5 363.7 1333.5 369.3 1332 372.5 C1330.6 375.8 1327.7 377.4 1325.5 379 C1323.4 380.6 1320.1 381.7 1319.1 382.2"/>
<path class="d" d="M1320.1 341.2 C1319.2 342.3 1316.5 344.6 1314.7 347.7 C1312.9 350.8 1311.5 356.1 1309.4 359.6 C1307.2 363 1303.1 366.8 1301.8 368.2"/>
<path class="d" d="M1307.2 328.3 L1345 358.5"/>
<path class="d" d="M1437.8 341.2 L1460 339.1"/>
<path class="d" d="M1450.7 346.6 L1460 346.1"/>
<path class="k" d="M1274.8 369.3 C1277 370.4 1283.8 373.4 1287.8 375.8 C1291.7 378.1 1294.1 379.7 1298.6 383.3 C1303.1 386.9 1307.6 391.6 1314.7 397.3 C1321.9 403.1 1337.2 414.5 1341.7 417.9"/>
<path class="k" d="M1291 379 C1295 382.4 1306.8 393 1314.7 399.5 C1322.7 406 1334.5 414.9 1338.5 417.9"/>
<path class="d" d="M1250 377.9 L1273.7 370.4"/>
<path class="d" d="M1259.7 399.5 L1291 385.5"/>
<path class="d" d="M1259.7 399.5 C1261.3 401.3 1267.1 407.2 1269.4 410.3 C1271.8 413.4 1273 416.7 1273.7 417.9"/>
<path class="d" d="M1275.9 391.9 C1277.5 394.3 1283.5 401.6 1285.6 406 C1287.8 410.3 1288.3 415.9 1288.8 417.9"/>
<path class="d" d="M1297.5 417.9 L1323.4 408.1"/>
<path class="k" d="M1178 737.9 C1183 733.2 1199.3 718.9 1208 709.9 C1216.6 700.9 1223.3 691.9 1230 683.9 C1236.6 675.9 1245 665.6 1248 661.9"/>
<path class="d" d="M1206 707.9 L1216 711.9 L1226 699.9 L1244 679.9 L1248 663.9"/>
<path class="t" d="M1230 679.9 L1238 689.9"/>
<path class="t" d="M1238 671.9 L1244 679.9"/>
<path class="d" d="M1224 590 L1274 500"/>
<path class="d" d="M1260 641.9 L1277.9 500"/>
<path class="d" d="M1277.9 631.9 L1293.9 500"/>
<path class="d" d="M1184 701.9 L1178 715.9"/>
<path class="k" d="M776.3 824.7 C779.9 823.5 790.5 819.1 797.9 817.8 C805.4 816.5 813.3 816.6 821 817 C828.7 817.4 835.2 818.5 844.2 820.1 C853.1 821.6 862.1 823.7 875 826.2 C887.8 828.8 905.8 833.2 921.2 835.5 C936.6 837.8 956 838.6 967.5 840.1 C978.9 841.7 983.1 843.8 990 844.7 C996.9 845.7 1002.4 845.7 1008.9 845.9 C1015.4 846.1 1019.5 847.4 1028.9 845.9 C1038.2 844.4 1054.2 841.6 1064.9 836.9 C1075.5 832.2 1081.5 827.4 1092.8 817.9 C1104.2 808.4 1118.6 793.9 1132.8 779.9 C1147 765.9 1170.5 741.6 1178 733.9"/>
<path class="d" d="M632 861 C641.7 858 666.7 850 690 843.2 C713.3 836.4 756.8 824.3 771.7 820.1 C786.6 815.8 775 818.7 779.4 817.8 C783.8 816.9 791 815.4 797.9 814.7 C804.8 814 814.1 813.4 821 813.6 C828 813.8 834.6 814.9 839.5 815.8 C844.4 816.6 848.5 818.1 850.3 818.5"/>
<path class="d" d="M850.3 818.5 L875 810.8"/>
<path class="t" d="M850.3 821.6 C862.1 823.5 901.7 830.4 921.2 833.2 C940.8 836 956 837.3 967.5 838.6 C978.9 839.9 986.2 840.5 990 840.9"/>
<path class="k" d="M705.4 844.7 C705.4 846.3 703.9 850.4 705.4 854 C707 857.6 711.3 863 714.7 866.3 C718 869.7 721.6 872 725.5 874 C729.3 876.1 733.4 878.4 737.8 878.7 C742.2 878.9 747.3 878.1 751.7 875.6 C756 873 760.7 868.4 764 863.2 C767.3 858.1 769.9 851.2 771.7 844.7 C773.5 838.3 774.3 828 774.8 824.7"/>
<path class="d" d="M720.8 840.1 C720.6 842.9 719 852.2 719.3 857.1 C719.5 862 720.3 866.1 722.4 869.4 C724.4 872.7 730.1 875.8 731.6 877.1"/>
<path class="t" d="M710 843.2 L720.8 850.9"/>
<ellipse class="k" cx="746.4" cy="850.2" rx="16.1" ry="13.8" transform="rotate(-50.1 746.4 850.2)"/>
<ellipse class="t" cx="746.5" cy="850.2" rx="11.1" ry="12.9" transform="rotate(-144.1 746.5 850.2)"/>
<path class="k" d="M822.6 818.5 C821.8 822.4 817.9 836 817.9 841.7 C817.9 847.3 819.5 848.3 822.6 852.5 C825.7 856.6 831.6 862.2 836.4 866.3 C841.3 870.4 846.7 875.8 851.9 877.1 C857 878.4 862.7 876.9 867.3 874 C871.9 871.2 876.3 864.3 879.6 860.2 C883 856 883.7 853.7 887.3 849.4 C890.9 845 898.9 836.5 901.2 834"/>
<path class="d" d="M848.8 826.2 C848.3 830.1 846.5 842.7 845.7 849.4 C844.9 856 843.6 862 844.2 866.3 C844.7 870.7 848 874 848.8 875.6"/>
<path class="t" d="M825.7 820.1 L845.7 830.9"/>
<path class="t" d="M821 841.7 L842.6 855.5"/>
<ellipse class="k" cx="863.5" cy="856.2" rx="13.8" ry="12.5" transform="rotate(-65.9 863.5 856.2)"/>
<ellipse class="t" cx="863.6" cy="856.2" rx="10.7" ry="9.5" transform="rotate(-67.8 863.6 856.2)"/>
<path class="d" d="M910.4 801.6 L928.9 834"/>
<path class="d" d="M912 803.1 L952.1 821.6 L964.4 838.6"/>
<path class="d" d="M933.6 834 L952.1 821.6"/>
<path class="d" d="M952.1 820.1 L949 780"/>
<path class="t" d="M854.9 817 L873.4 811.6"/>
<path class="d" d="M912.9 803.9 L928.9 835.9"/>
<path class="d" d="M910.9 801.9 L952.9 819.9 L966.9 837.9"/>
<path class="d" d="M932.9 835.9 L952.9 819.9"/>
<path class="d" d="M938.9 723.9 L940.9 737.9 L916.9 745.9"/>
<path class="d" d="M940.9 737.9 L952.9 815.9"/>
<path class="d" d="M918.9 712 C920.6 709.6 925.9 706.6 928.9 698 C931.9 689.3 935.6 666.3 936.9 660"/>
<path class="d" d="M914.9 680 L926.9 666"/>
<path class="d" d="M936.9 660 L974.9 686"/>
<path class="t" d="M976.9 684 C979.2 677.3 988.2 654.6 990.9 644 C993.6 633.3 992.6 624 992.9 620"/>
<path class="d" d="M789 680 L857 723.9"/>
<path class="d" d="M757.8 688 L777.8 809.9"/>
<path class="d" d="M779.8 678 L799.8 805.9"/>
<path class="t" d="M1014.9 650 L1020.9 658"/>
<path class="d" d="M1080.8 630 L1120.8 632"/>
<path class="d" d="M1160.8 640 L1164.8 656 L1178 652"/>
<path class="d" d="M1160.8 660 L1150.8 743.9"/>
<path class="d" d="M1150.8 747.9 L1178 716"/>
<g fill="none" stroke="#111" stroke-width="1.1"><circle cx="421.6" cy="602.4" r="14.2"/><circle cx="926.6" cy="399.3" r="14.2"/><circle cx="1568.7" cy="234.7" r="14.2"/></g>
<g fill="#111" font-family="Liberation Sans" font-size="12.5"><text x="421.6" y="607" text-anchor="middle">2</text><text x="926.6" y="404" text-anchor="middle">1</text><text x="1568.7" y="239.3" text-anchor="middle">2</text></g>
<path class="t" d="M431.5 592 L484 531"/>
<path d="M489.8 524.7 L481.5 530.5 L485.5 534 Z" fill="#111" stroke="#111" stroke-width="1"/>
<path class="t" d="M933.5 411.8 L980 488"/>
<path d="M984 495 L976.5 487 L981.5 485 Z" fill="#111" stroke="#111" stroke-width="1"/>
<path class="t" d="M1557.5 225.9 L1498 182"/>
<path d="M1491.1 177.9 L1500.5 180 L1497.5 185 Z" fill="#111" stroke="#111" stroke-width="1"/>
<path class="k" d="M1499.9 82.5 L1487.4 99.6 L1535.9 135.6 L1547.9 118 L1547.9 113.2 L1503.9 82.5Z"/>
<path class="k" d="M1503.1 84.4 C1506.6 86.5 1516.6 92.1 1523.9 97.2 C1531.2 102.2 1543.2 111.8 1547.1 114.8"/>
<path class="t" d="M1501.5 85.2 C1504.7 87.7 1513.5 94.9 1520.7 100.4 C1527.9 105.8 1540.7 115 1544.7 118"/>
<path class="k" d="M1494.3 108.4 L1388 251.5"/>
<path class="k" d="M1524.7 130 L1418.4 273.9"/>
<path class="k" d="M1388 251.5 C1388.3 252.4 1387.2 254.5 1389.6 257.1 C1392 259.6 1398.3 263.9 1402.4 266.7 C1406.5 269.5 1411.7 272.7 1414.4 273.9 C1417 275.1 1417.7 273.9 1418.4 273.9"/>
<path class="t" d="M1389.6 253.9 L1415.2 272.3"/>
</g>

<!-- DANGER BOX -->
<rect x="37" y="926" width="621" height="424" fill="none" stroke="#e0061e" stroke-width="4"/>
<rect x="35" y="924" width="625" height="32" fill="#e0061e"/>
<text x="249.4" y="947.5" font-size="20.5" font-weight="bold" fill="#fff" textLength="197.3" lengthAdjust="spacingAndGlyphs">PERICOLO - DANGER</text>
<rect x="248" y="949.3" width="199.3" height="1.6" fill="#fff"/>

<g id="tri">
<path d="M85 985 L114 1035 L56 1035 Z" fill="#ffe900" stroke="#111" stroke-width="4.6" stroke-linejoin="round"/>
<path d="M81.6 1003.6 Q81.6 999.8 85 999.8 Q88.4 999.8 88.4 1003.6 L86.3 1024.3 L83.7 1024.3 Z" fill="#111"/>
<circle cx="85" cy="1028.2" r="2.7" fill="#111"/>
</g>
<use href="#tri" y="80.7"/>
<use href="#tri" y="150.7"/>
<use href="#tri" y="217.3"/>
<use href="#tri" y="293"/>

<text class="b" x="152" y="983.8" font-size="15" textLength="445" lengthAdjust="spacingAndGlyphs">Prima dell’uso assicurarsi che tutte le viti siano tirate con cura.</text>
<text class="b" x="152" y="1002.5" font-size="15" textLength="206.6" lengthAdjust="spacingAndGlyphs">Usare frenafiletti tipo debole.</text>
<text class="bi" x="152" y="1024.4" font-size="15" textLength="413" lengthAdjust="spacingAndGlyphs">Before use make sure that all screws are tightened with care.</text>
<text class="bi" x="152" y="1043.1" font-size="15" textLength="212.5" lengthAdjust="spacingAndGlyphs">Use light strength threadlocker.</text>
<text class="b" x="152" y="1064" font-size="15" textLength="439" lengthAdjust="spacingAndGlyphs">E’ necessario l’intervento di personale professionale per tutti i</text>
<text class="b" x="152" y="1082.5" font-size="15" textLength="287" lengthAdjust="spacingAndGlyphs">prodotti che necessitano di installazione.</text>
<text class="bi" x="152" y="1104.8" font-size="15" textLength="432" lengthAdjust="spacingAndGlyphs">The assistance of professional staff is necessary for all the parts</text>
<text class="bi" x="152" y="1123.1" font-size="15" textLength="176" lengthAdjust="spacingAndGlyphs">which require installation.</text>
<text class="b" x="152" y="1153.5" font-size="15" textLength="498.4" lengthAdjust="spacingAndGlyphs">Tutti i prodotti Bonamici Racing sono da usare solo per le competizioni.</text>
<text class="bi" x="152" y="1174.8" font-size="15" textLength="412" lengthAdjust="spacingAndGlyphs">All Bonamici Racing products are made for agonistic use only.</text>
<text class="b" x="152" y="1200.8" font-size="15" textLength="355.5" lengthAdjust="spacingAndGlyphs">A seguito di qualsiasi urto è obbligatorio sostituire</text>
<text class="b" x="152" y="1219.5" font-size="15" textLength="137.6" lengthAdjust="spacingAndGlyphs">le parti interessate.</text>
<text class="bi" x="152" y="1241.4" font-size="15" textLength="330" lengthAdjust="spacingAndGlyphs">After any kind of impact, it’s obligatory to replace</text>
<text class="bi" x="152" y="1260.1" font-size="15" textLength="121.6" lengthAdjust="spacingAndGlyphs">the affected parts.</text>
<text class="b" x="152" y="1276.3" font-size="15" textLength="372.8" lengthAdjust="spacingAndGlyphs">E’ obbligatorio controllare il serraggio delle viti dopo</text>
<text class="b" x="152" y="1295.2" font-size="15" textLength="158" lengthAdjust="spacingAndGlyphs">ogni sessione di guida.</text>
<text class="bi" x="152" y="1316.8" font-size="15" textLength="336.7" lengthAdjust="spacingAndGlyphs">It’s obligatory to check the tightened of the screws</text>
<text class="bi" x="152" y="1335.2" font-size="15" textLength="154.5" lengthAdjust="spacingAndGlyphs">after ever ride session.</text>

<!-- SECOND BOX -->
<rect x="687.5" y="1225.5" width="743" height="124" fill="none" stroke="#e0061e" stroke-width="4.6"/>
<g>
<path d="M761.7 1258.5 L799.5 1323.5 L723.9 1323.5 Z" fill="#ffe900" stroke="#111" stroke-width="4.8" stroke-linejoin="round"/>
<path d="M758 1282 Q758 1278 761.7 1278 Q765.4 1278 765.4 1282 L763.2 1307.5 L760.2 1307.5 Z" fill="#111"/>
<circle cx="761.7" cy="1313.4" r="3.1" fill="#111"/>
</g>
<text class="r" x="821.5" y="1265.5" font-size="14" textLength="551.8" lengthAdjust="spacingAndGlyphs">Per il serraggio del dado perno di sterzo occorre utilizzare la coppia di serraggio</text>
<text class="r" x="821.5" y="1283.5" font-size="14" textLength="277.1" lengthAdjust="spacingAndGlyphs">indicata nel manuale d’officina originale.</text>
<text class="ri" x="821.5" y="1306.4" font-size="14" textLength="576" lengthAdjust="spacingAndGlyphs">To tighten the steering axle upper nut, use the tightening torque indicated in the original</text>
<text class="ri" x="821.5" y="1325.2" font-size="14" textLength="117.6" lengthAdjust="spacingAndGlyphs">workshop catalog.</text>

<!-- PARTS TABLE -->
<g fill="none" stroke="#222" stroke-width="1.4">
<rect x="1573.5" y="1245" width="350.5" height="83.7"/>
<line x1="1573.5" y1="1265.7" x2="1924" y2="1265.7"/>
<line x1="1573.5" y1="1288.1" x2="1924" y2="1288.1"/>
<line x1="1573.5" y1="1308.6" x2="1924" y2="1308.6"/>
<line x1="1692.4" y1="1265.7" x2="1692.4" y2="1328.7"/>
<line x1="1755.9" y1="1265.7" x2="1755.9" y2="1328.7"/>
</g>
<g font-size="12" fill="#111">
<text x="1706.5" y="1259.8" textLength="84" lengthAdjust="spacingAndGlyphs">ELENCO PARTI</text>
<text x="1602" y="1281.5" textLength="61.5" lengthAdjust="spacingAndGlyphs">ELEMENTO</text>
<text x="1724.2" y="1282.8" text-anchor="middle">QTÀ</text>
<text x="1794.3" y="1281.5" textLength="91.8" lengthAdjust="spacingAndGlyphs">NUMERO PARTE</text>
<text x="1633" y="1302.4" text-anchor="middle">1</text>
<text x="1724.2" y="1302.4" text-anchor="middle">1</text>
<text x="1760.7" y="1302.4" textLength="36.6" lengthAdjust="spacingAndGlyphs">PSH1R</text>
<text x="1633" y="1323.3" text-anchor="middle">2</text>
<text x="1724.2" y="1323.3" text-anchor="middle">2</text>
<text x="1760.1" y="1323.3" textLength="111.4" lengthAdjust="spacingAndGlyphs">M8x40 TCEI 18Nm*</text>
</g>
<text class="ri" x="1574" y="1348" font-size="15" textLength="276" lengthAdjust="spacingAndGlyphs">*tightening torque - *coppia di serraggio</text>

</svg>
</body></html>
